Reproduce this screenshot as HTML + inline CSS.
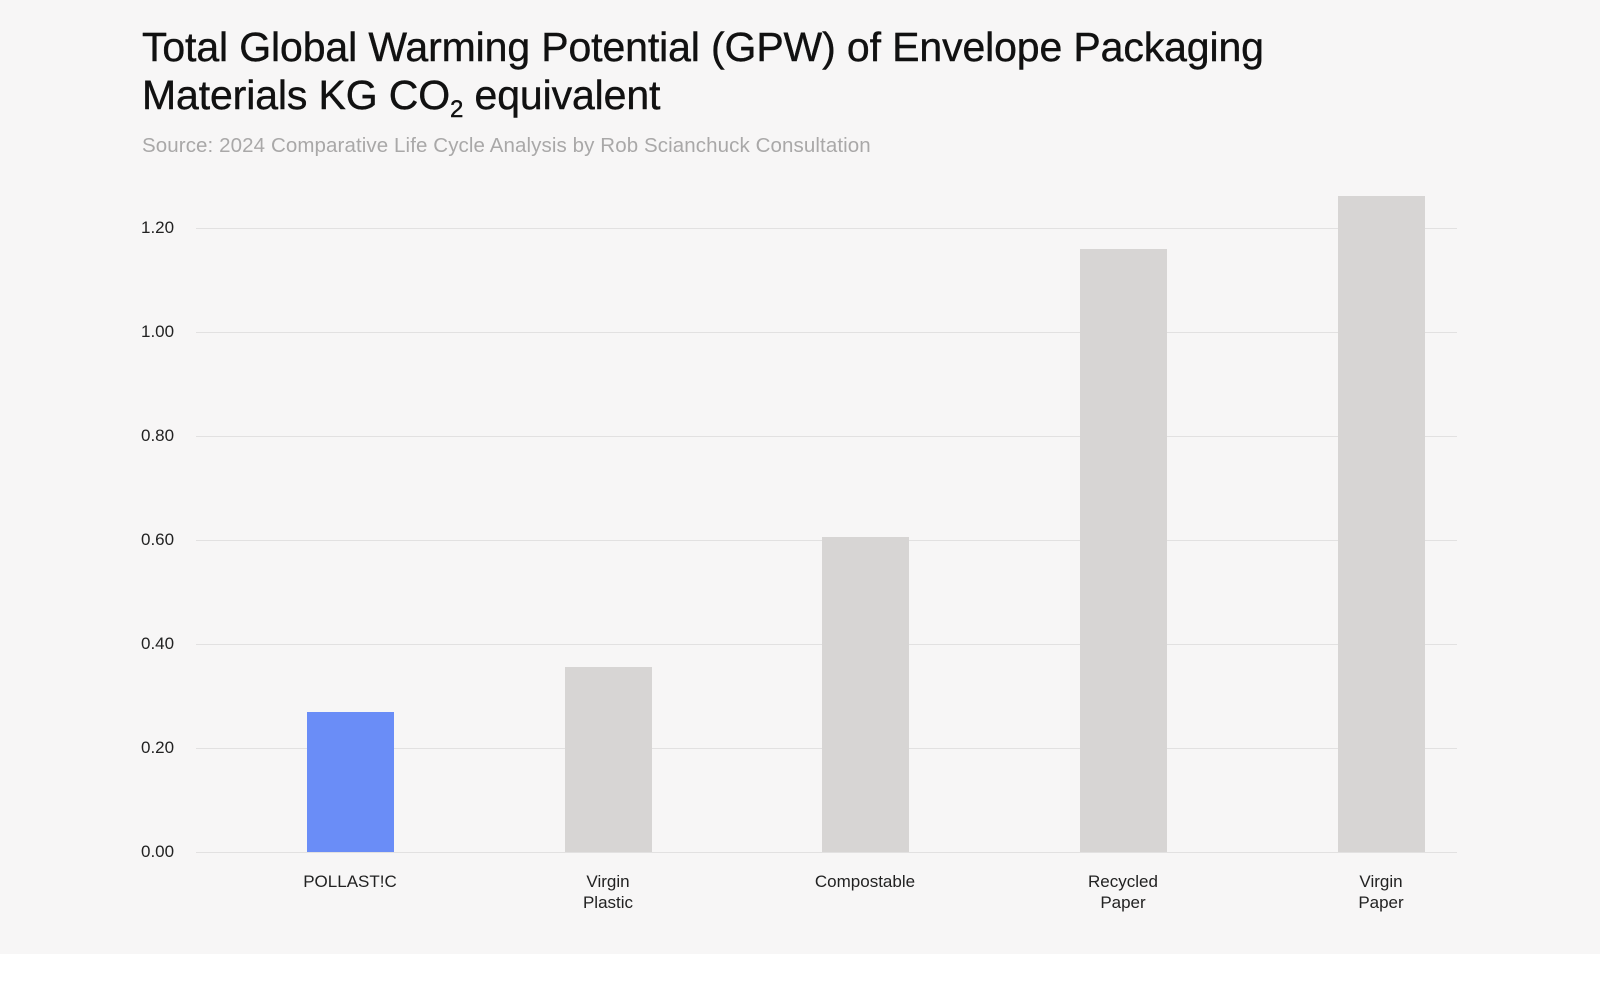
<!DOCTYPE html>
<html><head><meta charset="utf-8"><style>
html,body{margin:0;padding:0;width:1600px;height:1000px;background:#fff;overflow:hidden;font-family:"Liberation Sans",sans-serif;}
#bg{position:absolute;left:0;top:0;width:1600px;height:954px;background:#f7f6f6;}
.t{position:absolute;left:142px;font-size:41px;color:#111;letter-spacing:-0.12px;white-space:nowrap;-webkit-text-stroke:0.4px #111;}
.s{position:absolute;left:142px;top:134px;font-size:20.5px;color:#a9a8a8;white-space:nowrap;letter-spacing:0.1px}
.y{position:absolute;left:141px;font-size:17px;color:#222;}
.g{position:absolute;left:196px;width:1261px;height:1px;background:#e2e1e1;}
.b{position:absolute;width:87px;background:#d7d5d4;}
.c{position:absolute;width:200px;text-align:center;font-size:17px;color:#222;line-height:21px;top:871px;}
</style></head><body>
<div id="bg"></div>
<div class="t" style="top:24px">Total Global Warming Potential (GPW) of Envelope Packaging</div>
<div class="t" style="top:72px">Materials KG CO<sub style="font-size:24px;vertical-align:-8px">2</sub> equivalent</div>
<div class="s">Source: 2024 Comparative Life Cycle Analysis by Rob Scianchuck Consultation</div>
<div class="g" style="top:228px"></div><div class="y" style="top:218px">1.20</div>
<div class="g" style="top:332px"></div><div class="y" style="top:322px">1.00</div>
<div class="g" style="top:436px"></div><div class="y" style="top:426px">0.80</div>
<div class="g" style="top:540px"></div><div class="y" style="top:530px">0.60</div>
<div class="g" style="top:644px"></div><div class="y" style="top:634px">0.40</div>
<div class="g" style="top:748px"></div><div class="y" style="top:738px">0.20</div>
<div class="g" style="top:852px"></div><div class="y" style="top:842px">0.00</div>
<div class="b" style="left:307px;top:712px;height:140px;background:#6a8df7"></div>
<div class="b" style="left:565px;top:667px;height:185px"></div>
<div class="b" style="left:822px;top:537px;height:315px"></div>
<div class="b" style="left:1080px;top:249px;height:603px"></div>
<div class="b" style="left:1338px;top:196px;height:656px"></div>
<div class="c" style="left:250px">POLLAST!C</div>
<div class="c" style="left:508px">Virgin<br>Plastic</div>
<div class="c" style="left:765px">Compostable</div>
<div class="c" style="left:1023px">Recycled<br>Paper</div>
<div class="c" style="left:1281px">Virgin<br>Paper</div>
</body></html>
